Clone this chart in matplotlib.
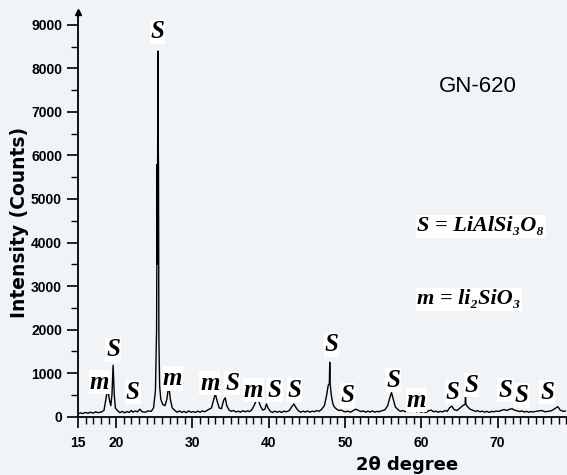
import matplotlib
matplotlib.use("Agg")
import matplotlib.pyplot as plt
from matplotlib.ticker import MultipleLocator, FixedLocator

# ── Data ────────────────────────────────────────────────────────────────────
two_theta = [
    15.0, 15.3, 15.6, 16.0, 16.3, 16.6, 17.0, 17.3, 17.6, 18.0, 18.4, 18.7,
    18.9, 19.1, 19.3, 19.45, 19.6, 19.75, 19.9, 20.2, 20.5, 20.8, 21.1, 21.4,
    21.7, 22.0, 22.2, 22.5, 22.8, 23.1, 23.4, 23.8, 24.2, 24.6, 24.9, 25.15,
    25.3, 25.38, 25.41, 25.44, 25.48, 25.52, 25.55, 25.6, 25.7, 25.85, 26.1,
    26.4, 26.65, 26.9, 27.1, 27.35, 27.7, 28.0, 28.3, 28.6, 28.9, 29.2, 29.5,
    29.8, 30.1, 30.4, 30.7, 31.0, 31.3, 31.6, 32.0, 32.5, 32.8, 33.0, 33.2,
    33.5, 33.8, 34.1, 34.3, 34.5, 34.8, 35.1, 35.4, 35.7, 36.0, 36.3, 36.6,
    36.9, 37.2, 37.5, 37.8, 38.1, 38.4, 38.6, 38.9, 39.2, 39.5, 39.7, 39.9,
    40.2, 40.5, 40.8, 41.1, 41.4, 41.7, 42.0, 42.3, 42.7, 43.0, 43.3, 43.6,
    43.9, 44.2, 44.5, 44.8, 45.1, 45.4, 45.7, 46.0, 46.3, 46.6, 46.9, 47.3,
    47.6, 47.8, 47.95, 48.0, 48.05, 48.2, 48.4, 48.6, 48.9, 49.2, 49.5, 49.8,
    50.1, 50.4, 50.7, 51.0, 51.4, 51.8, 52.1, 52.4, 52.7, 53.0, 53.3, 53.6,
    53.9, 54.2, 54.5, 54.8, 55.2, 55.6, 55.9, 56.1, 56.3, 56.6, 57.0, 57.3,
    57.6, 57.9, 58.2, 58.5, 58.8, 59.0, 59.4, 59.7, 60.0, 60.3, 60.6, 60.9,
    61.3, 61.6, 61.9, 62.2, 62.5, 62.8, 63.1, 63.4, 63.7, 64.0, 64.3, 64.7,
    65.1, 65.5, 65.75, 65.8, 65.85, 66.1, 66.4, 66.8, 67.1, 67.4, 67.7, 68.0,
    68.3, 68.6, 68.9, 69.2, 69.5, 69.8, 70.2, 70.6, 70.9, 71.2, 71.6, 71.9,
    72.2, 72.6, 72.9, 73.2, 73.5, 73.8, 74.1, 74.4, 74.7, 75.0, 75.4, 75.8,
    76.2, 76.6, 77.0, 77.5, 77.9, 78.2, 78.6, 79.0,
]
counts = [
    60, 85, 70, 95, 75, 100, 80, 110, 90, 100, 140, 450,
    650, 400, 250, 500, 1180, 500, 200, 130, 90, 120, 85, 115,
    95, 140, 100, 130, 110, 170, 110, 100, 130, 120, 200, 600,
    2000, 5800, 3500, 6200, 8400, 6200, 5800, 1800, 700, 400, 280,
    250, 400, 720, 400, 200, 140, 100, 130, 95, 120, 90, 130,
    100, 115, 95, 125, 100, 130, 110, 150, 200, 400, 520, 380,
    200, 180, 380, 430, 250, 150, 120, 140, 105, 125, 100, 135,
    110, 130, 115, 160, 260, 380, 400, 250, 150, 170, 290, 200,
    120, 95, 125, 100, 120, 95, 125, 110, 140, 220, 290, 200,
    130, 100, 125, 105, 130, 100, 125, 110, 140, 120, 160, 250,
    500, 720, 760, 1250, 760, 500, 300, 220, 170, 140, 150, 120,
    110, 125, 100, 130, 170, 140, 115, 130, 100, 125, 105, 130,
    100, 120, 110, 135, 150, 250, 450, 550, 420, 220, 150, 120,
    140, 110, 130, 115, 140, 150, 110, 125, 100, 120, 95, 130,
    150, 110, 125, 100, 120, 105, 140, 120, 200, 240, 160, 140,
    200, 260, 280, 540, 280, 220, 170, 140, 120, 135, 110, 125,
    100, 120, 95, 120, 110, 125, 120, 150, 160, 140, 170, 180,
    150, 130, 115, 130, 105, 120, 100, 115, 105, 120, 130, 140,
    110, 120, 130, 180, 230, 150, 120, 130,
]

# phase labels: (text, 2theta, counts)
peak_labels = ["m", "S", "S", "S", "m", "m", "S", "m", "S", "S", "S", "S",
               "S", "m", "S", "S", "S", "S", "S"]
label_x = [17.8, 19.6, 22.2, 25.4, 27.4, 32.3, 35.2, 38.0, 40.8, 43.4, 48.2,
           50.3, 56.3, 59.4, 64.1, 66.6, 71.0, 73.2, 76.5]
label_y = [790, 1530, 560, 8840, 880, 770, 770, 610, 610, 610, 1650,
           490, 840, 380, 560, 720, 610, 490, 560]

y_ticks = [0, 1000, 2000, 3000, 4000, 5000, 6000, 7000, 8000, 9000]
x_ticks = [15, 20, 30, 40, 50, 60, 70]

# ── Plot ────────────────────────────────────────────────────────────────────
bg = "#f1f4f7"
fig = plt.figure(figsize=(5.67, 4.75), dpi=100, facecolor=bg)
ax = fig.add_axes([0.1376, 0.123, 0.861, 0.852], facecolor=bg)

ax.plot(two_theta, counts, color="black", linewidth=1.0)

ax.set_xlim(15, 79)
ax.set_ylim(0, 9300)

tick_font = dict(family=["Liberation Sans Narrow", "Liberation Sans"],
                 weight="bold", size=10)
ax.xaxis.set_major_locator(FixedLocator(x_ticks))
ax.xaxis.set_minor_locator(MultipleLocator(1))
ax.yaxis.set_major_locator(FixedLocator(y_ticks))
ax.yaxis.set_minor_locator(MultipleLocator(500))
ax.set_xticklabels([str(t) for t in x_ticks], **tick_font)
ax.set_yticklabels([str(t) for t in y_ticks], **tick_font)
ax.tick_params(axis="both", which="major", length=8, width=1.2, direction="out")
ax.tick_params(axis="both", which="minor", length=5, width=1.0, direction="out")
ax.tick_params(axis="x", pad=6)

for side in ("top", "right"):
    ax.spines[side].set_visible(False)
ax.spines["left"].set_linewidth(1.3)
ax.spines["bottom"].set_linewidth(1.3)
# small arrow head on top of y axis
ax.plot([0], [1], marker="^", color="black", markersize=4,
        transform=ax.transAxes, clip_on=False)

ax.set_ylabel("Intensity (Counts)", fontsize=13.5, fontweight="bold")
ax.yaxis.set_label_coords(-0.1, 0.48)
fig.text(407 / 567, 1 - 465 / 475, "2θ degree", ha="center", va="center",
         fontsize=13, fontweight="bold")

serif = ["Liberation Serif", "DejaVu Serif"]
for lab, xx, yy in zip(peak_labels, label_x, label_y):
    ax.text(xx, yy, lab, ha="center", va="center", family=serif,
            style="italic", weight="bold", fontsize=18,
            bbox=dict(facecolor="white", edgecolor="none", pad=0.5))

ax.text(0.818, 0.815, "GN-620", transform=ax.transAxes, ha="center",
        va="center", family="Liberation Sans", fontsize=16)
ax.text(0.695, 0.47, "S = LiAlSi₃O₈", transform=ax.transAxes, ha="left",
        va="center", family=serif, style="italic", weight="bold", fontsize=16,
        bbox=dict(facecolor="white", edgecolor="none", pad=1))
ax.text(0.695, 0.29, "m = li₂SiO₃", transform=ax.transAxes, ha="left",
        va="center", family=serif, style="italic", weight="bold", fontsize=16,
        bbox=dict(facecolor="white", edgecolor="none", pad=1))

fig.savefig("out.png", dpi=100, facecolor=bg)
